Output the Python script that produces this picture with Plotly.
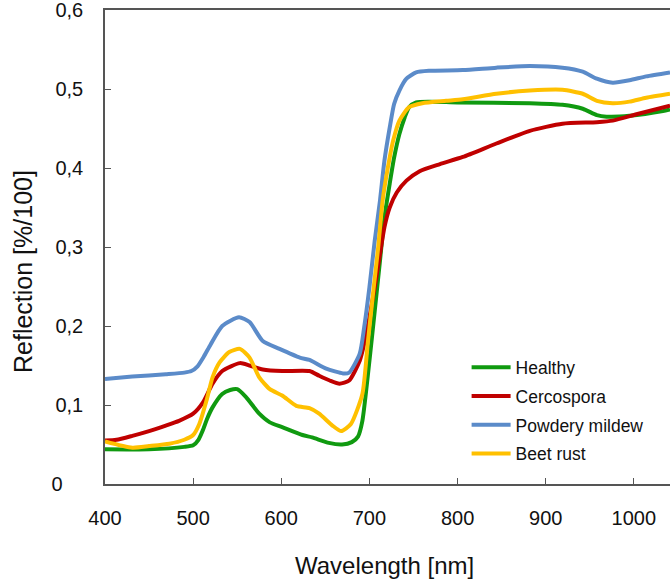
import plotly.graph_objects as go

# Spectral reflection of sugar beet leaves, healthy vs. diseased
wl_healthy = [400, 450, 490, 500, 506, 511, 516, 522, 533, 542, 550, 560, 575, 587, 601, 624, 635, 654, 669, 680, 687, 692, 700, 706, 712, 717, 723, 728, 734, 740, 745, 753, 768, 800, 882, 919, 942, 958, 969, 995, 1033, 1041]
healthy = [0.044, 0.044, 0.047, 0.049, 0.056, 0.068, 0.083, 0.097, 0.114, 0.119, 0.120, 0.110, 0.089, 0.078, 0.072, 0.062, 0.059, 0.052, 0.050, 0.053, 0.060, 0.080, 0.156, 0.219, 0.283, 0.337, 0.380, 0.413, 0.443, 0.464, 0.477, 0.483, 0.484, 0.483, 0.482, 0.480, 0.475, 0.467, 0.465, 0.466, 0.472, 0.474]

wl_cerco = [400, 413, 431, 450, 469, 484, 500, 511, 522, 533, 553, 564, 579, 601, 632, 643, 655, 666, 677, 689, 694, 700, 706, 712, 717, 723, 731, 742, 757, 780, 806, 844, 882, 919, 958, 976, 1003, 1041]
cercospora = [0.055, 0.056, 0.061, 0.067, 0.074, 0.080, 0.089, 0.103, 0.127, 0.143, 0.153, 0.150, 0.145, 0.143, 0.143, 0.137, 0.131, 0.127, 0.131, 0.156, 0.177, 0.211, 0.249, 0.291, 0.325, 0.350, 0.369, 0.384, 0.396, 0.405, 0.414, 0.431, 0.447, 0.456, 0.458, 0.460, 0.468, 0.479]

wl_mildew = [400, 431, 469, 490, 498, 505, 512, 520, 533, 552, 564, 579, 598, 621, 632, 651, 670, 677, 689, 694, 700, 706, 712, 717, 723, 728, 734, 742, 753, 768, 806, 844, 882, 919, 942, 958, 976, 995, 1014, 1041]
powdery_mildew = [0.133, 0.136, 0.139, 0.141, 0.143, 0.149, 0.161, 0.177, 0.200, 0.211, 0.205, 0.181, 0.171, 0.160, 0.157, 0.146, 0.140, 0.141, 0.165, 0.198, 0.249, 0.308, 0.359, 0.409, 0.451, 0.481, 0.498, 0.513, 0.521, 0.523, 0.524, 0.527, 0.529, 0.527, 0.522, 0.513, 0.508, 0.511, 0.516, 0.521]

wl_rust = [400, 431, 450, 473, 490, 500, 507, 515, 522, 530, 541, 553, 564, 575, 587, 601, 617, 632, 643, 658, 668, 679, 692, 698, 704, 710, 715, 721, 727, 734, 745, 760, 787, 806, 844, 882, 919, 942, 958, 976, 995, 1014, 1041]
beet_rust = [0.054, 0.046, 0.048, 0.051, 0.056, 0.062, 0.076, 0.105, 0.135, 0.154, 0.167, 0.171, 0.160, 0.135, 0.120, 0.112, 0.099, 0.096, 0.089, 0.074, 0.067, 0.076, 0.114, 0.177, 0.240, 0.300, 0.359, 0.401, 0.435, 0.460, 0.477, 0.482, 0.485, 0.487, 0.494, 0.498, 0.499, 0.494, 0.485, 0.482, 0.484, 0.489, 0.494]

x_ticks = [400, 500, 600, 700, 800, 900, 1000]
y_ticks = [0, 0.1, 0.2, 0.3, 0.4, 0.5, 0.6]
y_tick_text = ["0\u00a0\u00a0\u00a0\u2009", "0,1", "0,2", "0,3", "0,4", "0,5", "0,6"]

series = [
    ("Healthy", wl_healthy, healthy, "#109a10"),
    ("Cercospora", wl_cerco, cercospora, "#c00000"),
    ("Powdery mildew", wl_mildew, powdery_mildew, "#5b8bc9"),
    ("Beet rust", wl_rust, beet_rust, "#ffc000"),
]

fig = go.Figure()
for name, xs, ys, color in series:
    fig.add_trace(go.Scatter(
        x=xs, y=ys, name=name, mode="lines", legendgroup=name,
        line=dict(color=color, width=4, shape="spline", smoothing=0.6),
    ))

font_family = "Liberation Sans, Arial, sans-serif"
text_color = "#111111"
fig.update_layout(
    width=670, height=579,
    margin=dict(l=105, r=0, t=10, b=95),
    paper_bgcolor="white", plot_bgcolor="white",
    font=dict(family=font_family, color=text_color, size=17),
    showlegend=True,
    legend=dict(
        x=0.64, y=0.284, xanchor="left", yanchor="top",
        bgcolor="rgba(0,0,0,0)", font=dict(size=17.5, color=text_color),
        tracegroupgap=3, itemwidth=39,
    ),
    xaxis=dict(
        range=[400, 1041], tickvals=x_ticks, ticks="inside", ticklen=6,
        tickcolor="#555", showline=True, linecolor="#555", linewidth=1.5,
        mirror=True, showgrid=False, zeroline=False,
        tickfont=dict(size=20), ticklabelstandoff=15,
    ),
    yaxis=dict(
        range=[0, 0.6], tickvals=y_ticks, ticktext=y_tick_text, ticks="inside", ticklen=6,
        tickcolor="#555", showline=True, linecolor="#555", linewidth=1.5,
        showgrid=False, zeroline=False, ticklabeloverflow="allow",
        tickfont=dict(size=20), ticklabelstandoff=16,
    ),
    annotations=[
        dict(text="Wavelength [nm]", xref="paper", yref="paper",
             x=(384 - 105) / 565, y=-(565 - 484) / 474, xanchor="center", yanchor="middle",
             showarrow=False, font=dict(size=24, color=text_color)),
        dict(text="Reflection [%/100]", xref="paper", yref="paper",
             x=-(105 - 23) / 565, y=(484 - 272) / 474, xanchor="center", yanchor="middle",
             textangle=-90, showarrow=False, font=dict(size=25, color=text_color)),
    ],
)

fig.write_html("out.html")
